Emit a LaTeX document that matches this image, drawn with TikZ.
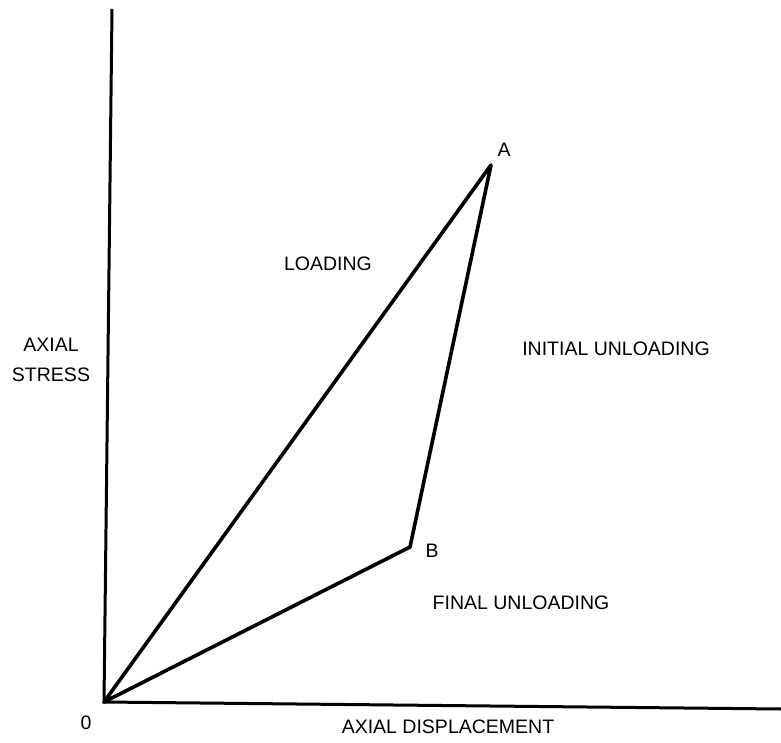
\documentclass[tikz,border=0pt]{standalone}
\usepackage{fontspec}
\setmainfont{Liberation Sans}
\begin{document}
\begin{tikzpicture}[x=1pt,y=-1pt,
  lbl/.style={inner sep=0pt,font=\fontsize{19.5}{30}\selectfont},
  axis/.style={line width=3pt},
  curve/.style={line width=3.6pt,line join=round,line cap=round}]
\useasboundingbox (0,0) rectangle (781,743);
\coordinate (O) at (104,702);
\coordinate (ytop) at (112,9);
\coordinate (xend) at (781,709);
\coordinate (A) at (491,165);
\coordinate (B) at (410,547);
\draw[axis] (ytop) -- (O) -- (xend);
\draw[curve] (O) -- (A) -- (B) -- cycle;
\node[lbl] (lA) at (504,150) {A};
\node[lbl] (lB) at (432,551) {B};
\node[lbl] (l0) at (86,723) {0};
\node[lbl] (lload) at (328,264) {LOADING};
\node[lbl] (linit) at (616,349) {INITIAL UNLOADING};
\node[lbl] (lfinal) at (521,603) {FINAL UNLOADING};
\node[lbl,align=center] (lstress) at (51,360) {AXIAL\\STRESS};
\node[lbl] (ldisp) at (448,727) {AXIAL DISPLACEMENT};
\end{tikzpicture}
\end{document}
